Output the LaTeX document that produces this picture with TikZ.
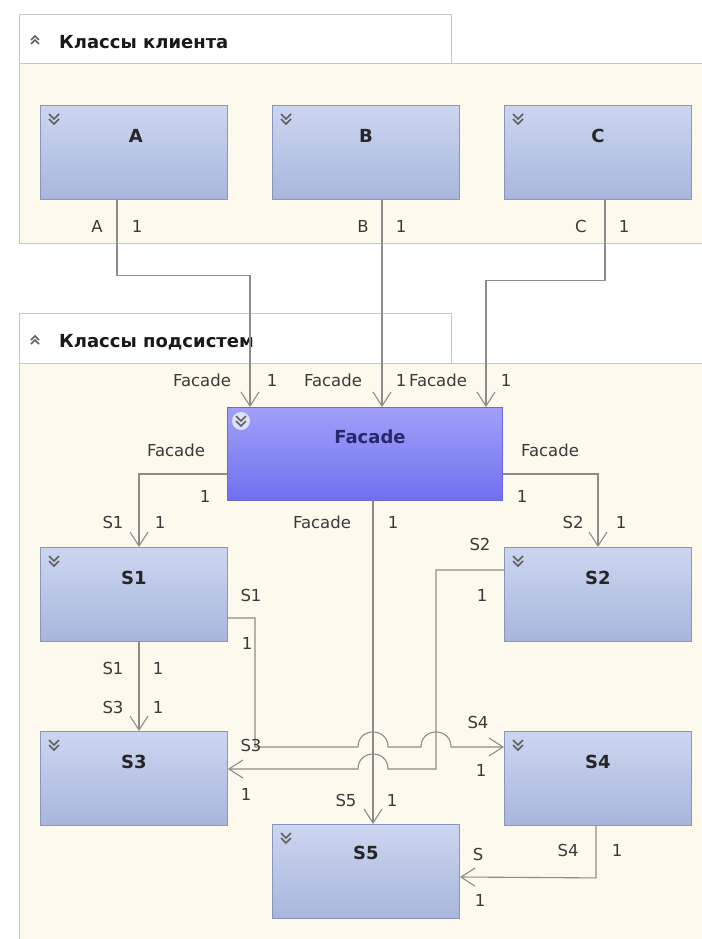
\documentclass[tikz,border=0pt]{standalone}
\usepackage{fontspec}
\setmainfont{DejaVu Sans}
\usetikzlibrary{arrows.meta,calc}
\definecolor{boxtop}{HTML}{CCD6F0}
\definecolor{boxbot}{HTML}{A8B6DC}
\definecolor{boxborder}{HTML}{8796C0}
\definecolor{factop}{HTML}{A0A0F8}
\definecolor{facbot}{HTML}{7070F0}
\definecolor{facborder}{HTML}{6A6AD8}
\definecolor{cream}{HTML}{FDF9EC}
\definecolor{grpborder}{HTML}{C8C8C0}
\definecolor{linegray}{HTML}{8C8C8C}
\definecolor{lbltext}{HTML}{3A3A3A}
\definecolor{chevgray}{HTML}{606060}
\tikzset{
  grpbody/.style={draw=grpborder, fill=cream, line width=1, anchor=north west, inner sep=0},
  grptab/.style={draw=grpborder, fill=white, line width=1, anchor=north west, inner sep=0},
  hdr/.style={font=\fontsize{18}{18}\selectfont\bfseries, text=black!90, anchor=west, inner sep=0},
  clsbox/.style={draw=boxborder, line width=0.9, top color=boxtop, bottom color=boxbot, minimum width=187, minimum height=94, anchor=north west, inner sep=0},
  facbox/.style={draw=facborder, line width=0.9, top color=factop, bottom color=facbot, minimum width=275, minimum height=93, anchor=north west, inner sep=0},
  ttl/.style={font=\fontsize{18}{18}\selectfont\bfseries, text=black!85, inner sep=0},
  lbl/.style={font=\fontsize{16.5}{16.5}\selectfont, text=lbltext, inner sep=0},
  conn/.style={draw=linegray, line width=1.1, -{Straight Barb[length=14pt,width=18pt,line width=1.1pt]}},
  chev/.style={draw=chevgray, line width=1.5},
  dchev/.pic={\draw[chev] (-5,-5) -- (0,0) -- (5,-5); \draw[chev] (-5,0) -- (0,5) -- (5,0);},
  uchev/.pic={\draw[chev] (-4,4) -- (0,0) -- (4,4); \draw[chev] (-4,0) -- (0,-4) -- (4,0);}
}
\begin{document}
\begin{tikzpicture}[x=1pt,y=-1pt]
\useasboundingbox (0,0) rectangle (701,939);
\fill[white] (0,0) rectangle (701,939);

% group 1
\node[grpbody, minimum width=690, minimum height=180] (g1) at (19,63) {};
\node[grptab, minimum width=432, minimum height=49] (t1) at (19,14) {};
\pic at (35,40) {uchev};
\node[hdr] (h1) at (59,42) {Классы клиента};

% group 2
\node[grpbody, minimum width=690, minimum height=590] (g2) at (19,363) {};
\node[grptab, minimum width=432, minimum height=50] (t2) at (19,313) {};
\pic at (35,340) {uchev};
\node[hdr] (h2) at (59,342) {Классы подсистем};

% boxes
\node[clsbox] (A) at (40,105) {};
\node[clsbox] (B) at (272,105) {};
\node[clsbox] (C) at (504,105) {};
\node[facbox] (F) at (227,407) {};
\node[clsbox] (S1) at (40,547) {};
\node[clsbox] (S2) at (504,547) {};
\node[clsbox] (S3) at (40,731) {};
\node[clsbox] (S4) at (504,731) {};
\node[clsbox] (S5) at (272,824) {};

\foreach \n in {A,B,C,S1,S2,S3,S4,S5}{
  \pic at ($(\n.north west)+(14,14)$) {dchev};
}
\fill[white,opacity=0.7] ($(F.north west)+(14,14)$) circle (9);
\pic at ($(F.north west)+(14,14)$) {dchev};

\node[ttl] (At) at ($(A.north)+(2,31)$) {A};
\node[ttl] (Bt) at ($(B.north)+(0,31)$) {B};
\node[ttl] (Ct) at ($(C.north)+(0,31)$) {C};
\node[ttl, text={rgb,255:red,40;green,40;blue,110}] (Ft) at ($(F.north)+(5,30)$) {Facade};
\node[ttl] (S1t) at ($(S1.north)+(0,31)$) {S1};
\node[ttl] (S2t) at ($(S2.north)+(0,31)$) {S2};
\node[ttl] (S3t) at ($(S3.north)+(0,31)$) {S3};
\node[ttl] (S4t) at ($(S4.north)+(0,31)$) {S4};
\node[ttl] (S5t) at ($(S5.north)+(0,29)$) {S5};

% connectors
\coordinate (a1) at ($(A.south west)+(77,0)$);
\coordinate (f1) at ($(F.north west)+(23,0)$);
\draw[conn] (a1) -- ($(a1)+(0,76)$) -| (f1);
\coordinate (b1) at ($(B.south west)+(110,0)$);
\draw[conn] (b1) -- (b1 |- F.north);
\coordinate (c1) at ($(C.south west)+(101,0)$);
\coordinate (f3) at ($(F.north west)+(259,0)$);
\draw[conn] (c1) -- ($(c1)+(0,81)$) -| (f3);

\coordinate (fl) at ($(F.north west)+(0,67)$);
\draw[conn] (fl) -| ($(S1.north west)+(99,0)$);
\coordinate (fr) at ($(F.north east)+(0,67)$);
\draw[conn] (fr) -| ($(S2.north west)+(94,0)$);
\coordinate (fb) at ($(F.south west)+(146,0)$);
\draw[conn] (fb) -- (fb |- S5.north);

\draw[conn] ($(S1.south west)+(99,0)$) -- ($(S3.north west)+(99,0)$);

\coordinate (s1r) at ($(S1.north east)+(0,71)$);
\draw[conn] (s1r) -- (255,618) -- (255,747) -- (358,747)
  .. controls (358,727) and (388,727) .. (388,747) -- (421,747)
  .. controls (421,727) and (451,727) .. (451,747) -- ($(S4.north west)+(0,16)$);

\coordinate (s2l) at ($(S2.north west)+(0,23)$);
\draw[conn] (s2l) -- (436,570) -- (436,769) -- (388,769)
  .. controls (388,749) and (358,749) .. (358,769) -- ($(S3.north east)+(0,38)$);

\coordinate (s4b) at ($(S4.south west)+(92,0)$);
\draw[conn] (s4b) -- ($(s4b)+(0,52)$) -- ($(S5.north east)+(0,53)$);

% labels
\node[lbl] (la1) at (97,226) {A};
\node[lbl] (la2) at (137,226) {1};
\node[lbl] (lb1) at (363,226) {B};
\node[lbl] (lb2) at (401,226) {1};
\node[lbl] (lc1) at (581,226) {C};
\node[lbl] (lc2) at (624,226) {1};

\node[lbl] (lf1) at (202,380) {Facade};
\node[lbl] (lf2) at (272,380) {1};
\node[lbl] (lf3) at (333,380) {Facade};
\node[lbl] (lf4) at (401,380) {1};
\node[lbl] (lf5) at (438,380) {Facade};
\node[lbl] (lf6) at (506,380) {1};

\node[lbl] (lg1) at (176,450) {Facade};
\node[lbl] (lg2) at (205,496) {1};
\node[lbl] (lg3) at (550,450) {Facade};
\node[lbl] (lg4) at (522,496) {1};

\node[lbl] (lh1) at (113,522) {S1};
\node[lbl] (lh2) at (160,522) {1};
\node[lbl] (lh3) at (573,522) {S2};
\node[lbl] (lh4) at (621,522) {1};
\node[lbl] (lh5) at (322,522) {Facade};
\node[lbl] (lh6) at (393,522) {1};

\node[lbl] (li1) at (480,544) {S2};
\node[lbl] (li2) at (482,595) {1};
\node[lbl] (li3) at (251,595) {S1};
\node[lbl] (li4) at (247,643) {1};

\node[lbl] (lj1) at (113,668) {S1};
\node[lbl] (lj2) at (158,668) {1};
\node[lbl] (lj3) at (113,707) {S3};
\node[lbl] (lj4) at (158,707) {1};

\node[lbl] (lk1) at (251,745) {S3};
\node[lbl] (lk2) at (478,722) {S4};
\node[lbl] (lk3) at (481,770) {1};
\node[lbl] (lk4) at (246,794) {1};

\node[lbl] (ll1) at (346,800) {S5};
\node[lbl] (ll2) at (392,800) {1};
\node[lbl] (ll3) at (568,850) {S4};
\node[lbl] (ll4) at (617,850) {1};
\node[lbl] (ll5) at (478,854) {S};
\node[lbl] (ll6) at (480,900) {1};
\end{tikzpicture}
\end{document}
